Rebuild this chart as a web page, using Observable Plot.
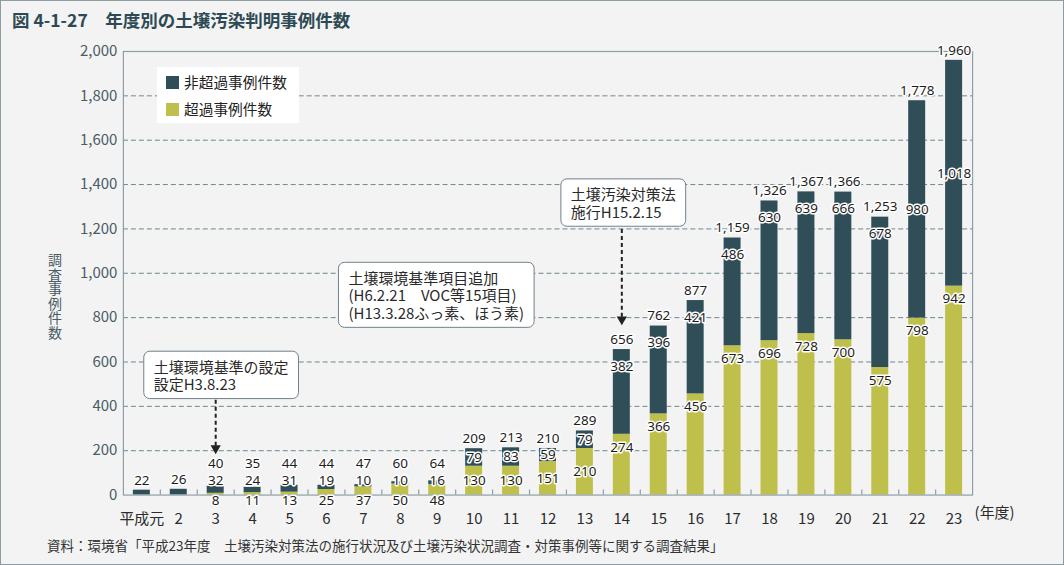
<!DOCTYPE html>
<html>
<head>
<meta charset="utf-8">
<script src="https://cdn.jsdelivr.net/npm/d3@7"></script>
<script src="https://cdn.jsdelivr.net/npm/@observablehq/plot@0.6"></script>
<style>
  html, body { margin: 0; padding: 0; background: #f3f3f3; }
  #wrap { position: relative; width: 1064px; height: 565px; box-sizing: border-box; border: 1px solid #8d9ca1; background: #f3f3f3; overflow: hidden;
          font-family: "Noto Sans CJK JP", "Noto Sans", sans-serif; }
  #title { position: absolute; left: 11px; top: 10px; font-size: 17.5px; line-height: 1; font-weight: 700; color: #2d4a54; white-space: pre; }
  #chart { position: absolute; left: -1px; top: 35px; }
  #ytitle { position: absolute; left: 47px; top: 252px; writing-mode: vertical-rl; text-orientation: upright; font-size: 14px; line-height: 14px; letter-spacing: 0.5px; color: #4a5c65; }
  #legend { position: absolute; left: 156px; top: 66px; width: 142px; height: 56px; background: #ffffff; font-size: 14.7px; color: #222; }
  #legend .item { position: absolute; left: 9px; height: 18px; line-height: 18px; white-space: nowrap; }
  #legend .sw { display: inline-block; width: 13px; height: 13px; vertical-align: -1px; margin-right: 5px; }
  #caption { position: absolute; left: 46px; top: 538px; font-size: 13.5px; line-height: 1; color: #333; white-space: pre; }
  g[aria-label^="x-axis"] text { fill: #2b2b2b; }
  g[aria-label^="y-axis"] text { fill: #4a5c65; }
</style>
</head>
<body>
<div id="wrap">
  <div id="title">図 4-1-27　年度別の土壌汚染判明事例件数</div>
  <div id="chart"></div>
  <div id="ytitle"></div>
  <div id="legend"></div>
  <div id="caption">資料：環境省「平成23年度　土壌汚染対策法の施行状況及び土壌汚染状況調査・対策事例等に関する調査結果」</div>
</div>
<script>
// ---- data ----
const years = ["平成元","2","3","4","5","6","7","8","9","10","11","12","13","14","15","16","17","18","19","20","21","22","23"];
const exceed    = [0, 0, 8, 11, 13, 25, 37, 50, 48, 130, 130, 151, 210, 274, 366, 456, 673, 696, 728, 700, 575, 798, 942];
const nonExceed = [22, 26, 32, 24, 31, 19, 10, 10, 16, 79, 83, 59, 79, 382, 396, 421, 486, 630, 639, 666, 678, 980, 1018];
const seriesNames = ["非超過事例件数", "超過事例件数"];
const yTicks = [0, 200, 400, 600, 800, 1000, 1200, 1400, 1600, 1800, 2000];
const gridValues = [200, 400, 600, 800, 1000, 1200, 1400, 1600, 1800];
const xUnit = "(年度)";
const yTitle = "調査事例件数";

// ---- style ----
const DARK = "#2f4e57", YELLOW = "#bec04b";
const AX = "#8d9ea4", GRID = "#6d8791";
const FONT = "\"Noto Sans CJK JP\", \"Noto Sans\", sans-serif";
const W = 1064, H = 500, MT = 15, MB = 41, ML = 123, MR = 91;
const PAD = 0.54;
const k = 2000 / (H - MT - MB);       // data units per pixel
const step = (W - ML - MR) / years.length;

// long format for stacking (exceed at the bottom)
const rows = [];
years.forEach((yr, i) => {
  rows.push({year: yr, series: seriesNames[1], value: exceed[i]});
  rows.push({year: yr, series: seriesNames[0], value: nonExceed[i]});
});

// value labels, placed by rules from the values
const labels = [];
const at = (v, px) => v - px * k;
const fmt = d3.format(",");
years.forEach((yr, i) => {
  const e = exceed[i], n = nonExceed[i], t = e + n;
  if (t < 100) {
    if (e > 0) {
      labels.push({x: yr, y: at(0, -31), text: fmt(t)});
      labels.push({x: yr, y: at(0, -14), text: fmt(n)});
      labels.push({x: yr, y: at(0, 5.5), text: fmt(e)});
    } else {
      labels.push({x: yr, y: at(t, -10), text: fmt(t)});
    }
  } else if (t < 400) {
    labels.push({x: yr, y: at(t, -10), text: fmt(t)});
    labels.push({x: yr, y: e + n / 2, text: fmt(n)});
    labels.push({x: yr, y: e / 2, text: fmt(e)});
  } else {
    labels.push({x: yr, y: at(t, -10), text: fmt(t)});
    labels.push({x: yr, y: n > 900 ? e + n / 2 : at(t, 17), text: fmt(n)});
    labels.push({x: yr, y: at(e, 13), text: fmt(e)});
  }
});

// annotations (anchored to a year and a value)
const notes = [
  {x: "3",  y: 538, dx: -62, lines: ["土壌環境基準の設定", "設定H3.8.23"]},
  {x: "6",  y: 899, dx: 22,  lines: ["土壌環境基準項目追加", "(H6.2.21　VOC等15項目)", "(H13.3.28ふっ素、ほう素)"]},
  {x: "14", y: 1315, dx: -51, lines: ["土壌汚染対策法", "施行H15.2.15"]}
];
const arrows = [
  {x: "3",  y1: 430,  y2: 222, tip: 211},
  {x: "14", y1: 1200, y2: 803, tip: 792}
];
const NOTE_FS = 15, NOTE_LH = 1.18;

const plot = Plot.plot({
  width: W, height: H,
  marginTop: MT, marginBottom: MB, marginLeft: ML, marginRight: MR,
  style: {background: "transparent", fontFamily: FONT, fontSize: "15px", color: "#4a5c65", overflow: "visible"},
  x: {type: "band", domain: years, paddingInner: PAD, paddingOuter: PAD / 2, align: 0.5, round: false,
      tickSize: 0, tickPadding: 18, label: null},
  y: {domain: [0, 2000], ticks: yTicks, tickFormat: fmt, tickSize: 0, tickPadding: 6, label: null},
  color: {domain: seriesNames, range: [DARK, YELLOW]},
  marks: [
    Plot.ruleY(gridValues, {stroke: GRID, strokeWidth: 1, strokeDasharray: "5,3"}),
    Plot.barY(rows, {x: "year", y: "value", fill: "series"}),
    Plot.frame({stroke: AX, strokeWidth: 1.2}),
    Plot.ruleX(years.slice(0, -1), {x: d => d, dx: step / 2, y1: 0, y2: 5 * k, stroke: AX, strokeWidth: 1.2}),
    Plot.text(labels, {x: "x", y: "y", text: "text", fontSize: 13.5, fill: "#1d1d1d",
                       stroke: "white", strokeWidth: 3, paintOrder: "stroke", fontFamily: "\"Noto Sans\", sans-serif"}),
    Plot.text([xUnit], {text: d => d, frameAnchor: "bottom-right", textAnchor: "start", dx: 2, dy: 23,
                       fontSize: 15, fill: "#2b2b2b"}),
    Plot.link(arrows, {x1: "x", x2: "x", y1: "y1", y2: "y2", stroke: "#222", strokeWidth: 2, strokeDasharray: "4,3"}),
    Plot.dot(arrows, {x: "x", y: "tip", symbol: "triangle", r: 3.8, rotate: 180, fill: "#222", stroke: "none"}),
    ...notes.map(n => Plot.text([n], {x: "x", y: "y", dx: n.dx, text: d => d.lines.join("\n"),
                       textAnchor: "start", lineAnchor: "middle", lineHeight: NOTE_LH, fontSize: NOTE_FS,
                       fill: "#2a2a2a"}))
  ]
});
document.getElementById("chart").append(plot);

// rounded white boxes behind the annotation texts
const NS = "http://www.w3.org/2000/svg";
const noteTexts = new Set(notes.map(n => n.lines.join("")));
plot.querySelectorAll("text").forEach(t => {
  if (!noteTexts.has(t.textContent)) return;
  const b = t.getBBox();
  const nLines = Math.max(1, t.querySelectorAll("tspan").length);
  const hBlock = nLines * NOTE_LH * NOTE_FS;
  const cy = b.y + b.height / 2;
  const r = document.createElementNS(NS, "rect");
  r.setAttribute("x", b.x - 10);
  r.setAttribute("width", b.width + 20);
  r.setAttribute("y", cy - hBlock / 2 - 6);
  r.setAttribute("height", hBlock + 12);
  r.setAttribute("rx", 6);
  r.setAttribute("fill", "#ffffff");
  r.setAttribute("stroke", "#6f8189");
  r.setAttribute("stroke-width", 1);
  if (t.getAttribute("transform")) r.setAttribute("transform", t.getAttribute("transform"));
  t.parentNode.insertBefore(r, t);
});

// y title
document.getElementById("ytitle").textContent = yTitle;

// legend
const legend = document.getElementById("legend");
[[seriesNames[0], DARK, 6], [seriesNames[1], YELLOW, 33]].forEach(([name, c, top]) => {
  const d = document.createElement("div");
  d.className = "item";
  d.style.top = top + "px";
  d.innerHTML = `<span class="sw" style="background:${c}"></span>${name}`;
  legend.append(d);
});
</script>
</body>
</html>
